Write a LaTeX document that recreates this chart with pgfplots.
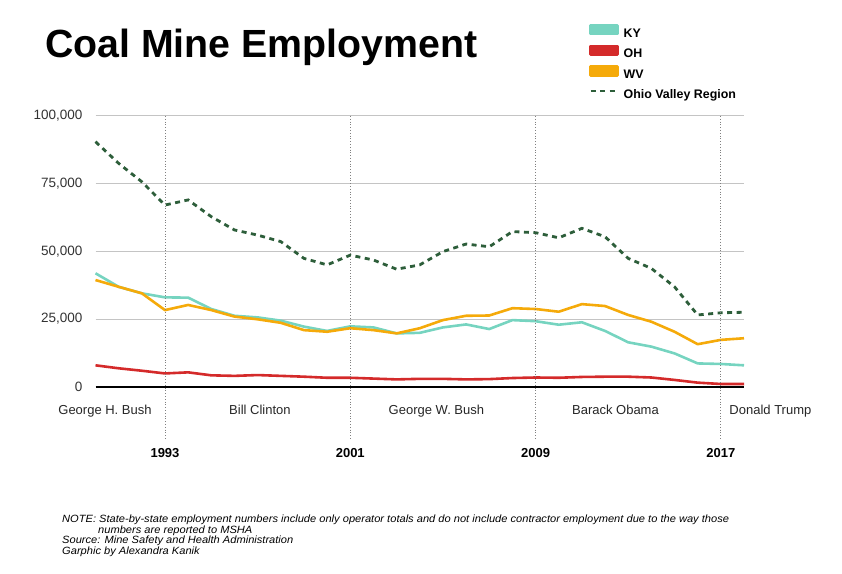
\documentclass[border=0pt]{standalone}
\usepackage{fontspec}
\setmainfont{Liberation Sans}
\newfontfamily\notefont[FakeStretch=1.057]{Liberation Sans}
\usepackage{pgfplots}
\pgfplotsset{compat=1.18}
\definecolor{ky}{HTML}{76D4C0}
\definecolor{oh}{HTML}{D42A2A}
\definecolor{wv}{HTML}{F5AA0A}
\definecolor{orv}{HTML}{2D5E3A}
\definecolor{gridc}{HTML}{C4C4C4}
\begin{document}
\begin{tikzpicture}
\useasboundingbox (0pt,0pt) rectangle (842pt,573pt);
\node[anchor=base west, font=\fontsize{39.3}{45}\selectfont\bfseries, inner sep=0pt] at (45pt,515pt) {Coal Mine Employment};
\begin{axis}[
  at={(95.5pt,186.3pt)}, anchor=south west,
  scale only axis, width=648.5pt, height=270.7pt,
  xmin=1990, xmax=2018, ymin=0, ymax=100000,
  clip=false,
  axis line style={draw=none},
  xtick=\empty,
  ytick={25000,50000,75000,100000},
  yticklabels={{25,000},{50,000},{75,000},{100,000}},
  extra y ticks={0},
  extra y tick labels={0},
  extra y tick style={grid style={black, line width=2pt}},
  ymajorgrids, grid style={color=gridc, line width=1pt},
  major tick length=0pt,
  scaled y ticks=false,
  yticklabel style={font=\fontsize{13.5}{16}\selectfont, text=black!80, inner sep=0pt, xshift=-13pt},
  legend style={draw=none, fill=none, at={(0.761,1.340)}, anchor=north west,
    font=\fontsize{12.4}{14}\selectfont\bfseries, row sep=5.1pt, inner sep=0pt,
    nodes={inner sep=0pt, text height=9pt, text depth=2.5pt}},
  legend cell align=left,
]
\addplot[color=ky, line width=2.6pt, line join=round,
  legend image code/.code={\path[draw=none,fill=none] (0pt,-1pt) rectangle (33pt,9pt); \fill[ky] (0pt,0pt) rectangle (27pt,8.5pt);}]
  coordinates {(1990,41900)(1991,36900)(1992,34500)(1993,33000)(1994,32900)(1995,28700)(1996,26200)(1997,25600)(1998,24400)(1999,22200)(2000,20600)(2001,22300)(2002,21900)(2003,19700)(2004,19900)(2005,21900)(2006,23000)(2007,21300)(2008,24600)(2009,24200)(2010,22900)(2011,23800)(2012,20600)(2013,16400)(2014,14800)(2015,12300)(2016,8600)(2017,8400)(2018,7900)};
\addlegendentry{KY}
\addplot[color=oh, line width=2.6pt, line join=round,
  legend image code/.code={\path[draw=none,fill=none] (0pt,-1pt) rectangle (33pt,9pt); \fill[oh] (0pt,0pt) rectangle (27pt,8.5pt);}]
  coordinates {(1990,7900)(1991,6800)(1992,5900)(1993,4900)(1994,5300)(1995,4200)(1996,4000)(1997,4300)(1998,4000)(1999,3700)(2000,3300)(2001,3300)(2002,3000)(2003,2700)(2004,2900)(2005,2900)(2006,2700)(2007,2800)(2008,3200)(2009,3400)(2010,3300)(2011,3600)(2012,3700)(2013,3700)(2014,3400)(2015,2500)(2016,1500)(2017,1000)(2018,1000)};
\addlegendentry{OH}
\addplot[color=wv, line width=2.6pt, line join=round,
  legend image code/.code={\path[draw=none,fill=none] (0pt,-1pt) rectangle (33pt,9pt); \fill[wv] (0pt,0pt) rectangle (27pt,8.5pt);}]
  coordinates {(1990,39400)(1991,36900)(1992,34500)(1993,28300)(1994,30200)(1995,28300)(1996,25900)(1997,24900)(1998,23600)(1999,20900)(2000,20300)(2001,21600)(2002,20900)(2003,19700)(2004,21600)(2005,24600)(2006,26200)(2007,26300)(2008,29000)(2009,28700)(2010,27700)(2011,30500)(2012,29800)(2013,26500)(2014,24000)(2015,20300)(2016,15700)(2017,17300)(2018,17900)};
\addlegendentry{WV}
\addplot[color=orv, line width=2.8pt, dash pattern=on 5pt off 4.5pt,
  legend image code/.code={\path[draw=none,fill=none] (0pt,-1pt) rectangle (33pt,9pt); \draw[orv, line width=2.8pt, dash pattern=on 5pt off 4.5pt] (0pt,4.2pt) -- (27pt,4.2pt);}]
  coordinates {(1990,90500)(1991,82500)(1992,75700)(1993,67100)(1994,69000)(1995,62800)(1996,57900)(1997,56000)(1998,53600)(1999,47400)(2000,45000)(2001,48600)(2002,46800)(2003,43400)(2004,45000)(2005,49900)(2006,52700)(2007,51700)(2008,57300)(2009,56900)(2010,55000)(2011,58500)(2012,55400)(2013,47400)(2014,43700)(2015,36900)(2016,26500)(2017,27300)(2018,27500)};
\addlegendentry{Ohio Valley Region}
\pgfplotsinvokeforeach{1993,2001,2009,2017}{
  \draw[gray, line width=0.8pt, dotted] (axis cs:#1,100000) -- (axis cs:#1,-19700);
  \node[anchor=base, font=\fontsize{13}{15}\selectfont\bfseries, inner sep=0pt] at (axis cs:#1,-25970) {#1};
}
\node[anchor=base, font=\fontsize{13}{15}\selectfont, text=black!85, inner sep=0pt] at (axis cs:1990.41,-10085) {George H. Bush};
\node[anchor=base, font=\fontsize{13}{15}\selectfont, text=black!85, inner sep=0pt] at (axis cs:1997.10,-10085) {Bill Clinton};
\node[anchor=base, font=\fontsize{13}{15}\selectfont, text=black!85, inner sep=0pt] at (axis cs:2004.72,-10085) {George W. Bush};
\node[anchor=base, font=\fontsize{13}{15}\selectfont, text=black!85, inner sep=0pt] at (axis cs:2012.45,-10085) {Barack Obama};
\node[anchor=base, font=\fontsize{13}{15}\selectfont, text=black!85, inner sep=0pt] at (axis cs:2019.14,-10085) {Donald Trump};
\end{axis}
\begin{scope}[every node/.style={anchor=base west, inner sep=0pt, font=\notefont\fontsize{10.5}{12}\selectfont\itshape}]
\node at (62pt,50.2pt) {NOTE: State-by-state employment numbers include only operator totals and do not include contractor employment due to the way those};
\node at (98pt,39.8pt) {numbers are reported to MSHA};
\node at (62pt,29.4pt) {Source: Mine Safety and Health Administration};
\node at (62pt,19pt) {Garphic by Alexandra Kanik};
\end{scope}
\end{tikzpicture}
\end{document}
